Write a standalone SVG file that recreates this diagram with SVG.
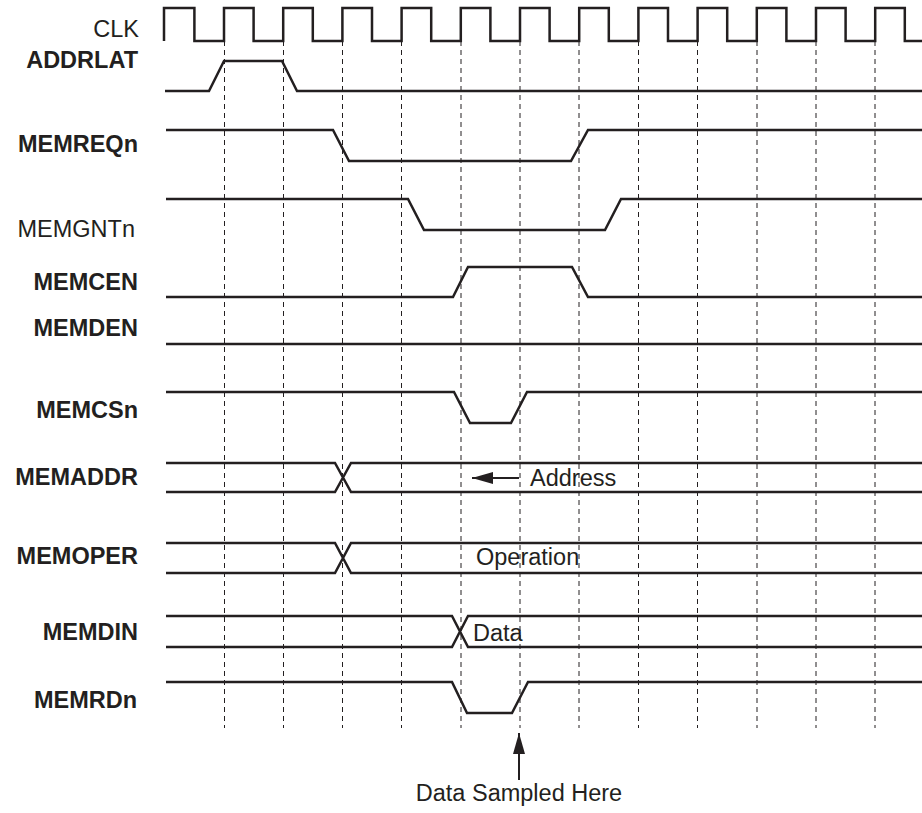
<svg xmlns="http://www.w3.org/2000/svg" width="922" height="813" viewBox="0 0 922 813">
<style>
.bg{fill:#ffffff}
.w{fill:none;stroke:#231f20;stroke-width:2.5;stroke-linejoin:miter}
.g{fill:none;stroke:#231f20;stroke-width:1;stroke-dasharray:5 4}
.lb{font-family:"Liberation Sans",Arial,sans-serif;font-size:23.5px;font-weight:bold;fill:#231f20;text-anchor:end}
.ln{font-family:"Liberation Sans",Arial,sans-serif;font-size:23.5px;fill:#231f20;text-anchor:end}
.t{font-family:"Liberation Sans",Arial,sans-serif;font-size:23.5px;fill:#231f20}
.ar{fill:none;stroke:#231f20;stroke-width:2}
</style>
<defs>
<marker id="ah" viewBox="0 0 21 12" refX="21" refY="6" markerWidth="21" markerHeight="12" markerUnits="userSpaceOnUse" orient="auto">
<path d="M0,0 L21,6 L0,12 Z" fill="#231f20"/>
</marker>
</defs>
<rect class="bg" x="0" y="0" width="922" height="813"/>
<g id="gridlines">
<path class="g" d="M224.5,41V728M283.5,41V728M342.5,41V728M401.5,41V728M461,41V728M520,41V728M579,41V728M638.5,41V728M697.5,41V728M757,41V728M816,41V728M875,41V728"/>
</g>
<g id="CLK">
<text class="ln" x="139" y="37">CLK</text>
<path class="w" d="M164,41 V8 H194.4 V41 H224 V8 H253.6 V41 H283.2 V8 H312.8 V41 H342.4 V8 H372 V41 H401.6 V8 H431.2 V41 H460.8 V8 H490.4 V41 H520 V8 H549.6 V41 H579.2 V8 H608.8 V41 H638.4 V8 H668 V41 H697.6 V8 H727.2 V41 H756.8 V8 H786.4 V41 H816 V8 H845.6 V41 H875.2 V8 H904.8 V41 H922"/>
</g>
<g id="ADDRLAT">
<text class="lb" x="138" y="68">ADDRLAT</text>
<path class="w" d="M165,91 H209 L224,61 H282 L297,91 H922"/>
</g>
<g id="MEMREQn">
<text class="lb" x="138" y="152">MEMREQn</text>
<path class="w" d="M166,130 H333 L349,161 H571 L588,130 H922"/>
</g>
<g id="MEMGNTn">
<text class="ln" x="135" y="237">MEMGNTn</text>
<path class="w" d="M166,199 H408 L424,230 H605 L621,199 H922"/>
</g>
<g id="MEMCEN">
<text class="lb" x="138" y="290">MEMCEN</text>
<path class="w" d="M166,297 H453 L468,267 H572 L588,297 H922"/>
</g>
<g id="MEMDEN">
<text class="lb" x="138" y="336">MEMDEN</text>
<path class="w" d="M166,344 H922"/>
</g>
<g id="MEMCSn">
<text class="lb" x="138" y="418">MEMCSn</text>
<path class="w" d="M166,392 H454 L470,423 H511 L527,392 H922"/>
</g>
<g id="MEMADDR">
<text class="lb" x="138" y="485">MEMADDR</text>
<path class="w" d="M166,463 H335 L351,492 H922 M166,492 H335 L351,463 H922"/>
<text class="t" x="530" y="486">Address</text>
</g>
<g id="MEMOPER">
<text class="lb" x="138" y="564">MEMOPER</text>
<path class="w" d="M166,543 H335 L351,573 H922 M166,573 H335 L351,543 H922"/>
<text class="t" x="476" y="565">Operation</text>
</g>
<g id="MEMDIN">
<text class="lb" x="138" y="640">MEMDIN</text>
<path class="w" d="M166,616 H452 L468,647 H922 M166,647 H452 L468,616 H922"/>
<text class="t" x="473" y="641">Data</text>
</g>
<g id="MEMRDn">
<text class="lb" x="137" y="708">MEMRDn</text>
<path class="w" d="M166,682 H452 L467,713 H512 L528,682 H922"/>
</g>
<g id="connectors">
<path class="ar" d="M519,478 H472" marker-end="url(#ah)"/>
<path class="ar" d="M519,780 V733" marker-end="url(#ah)"/>
</g>
<g id="note">
<text class="t" x="519" y="801" text-anchor="middle">Data Sampled Here</text>
</g>
</svg>
